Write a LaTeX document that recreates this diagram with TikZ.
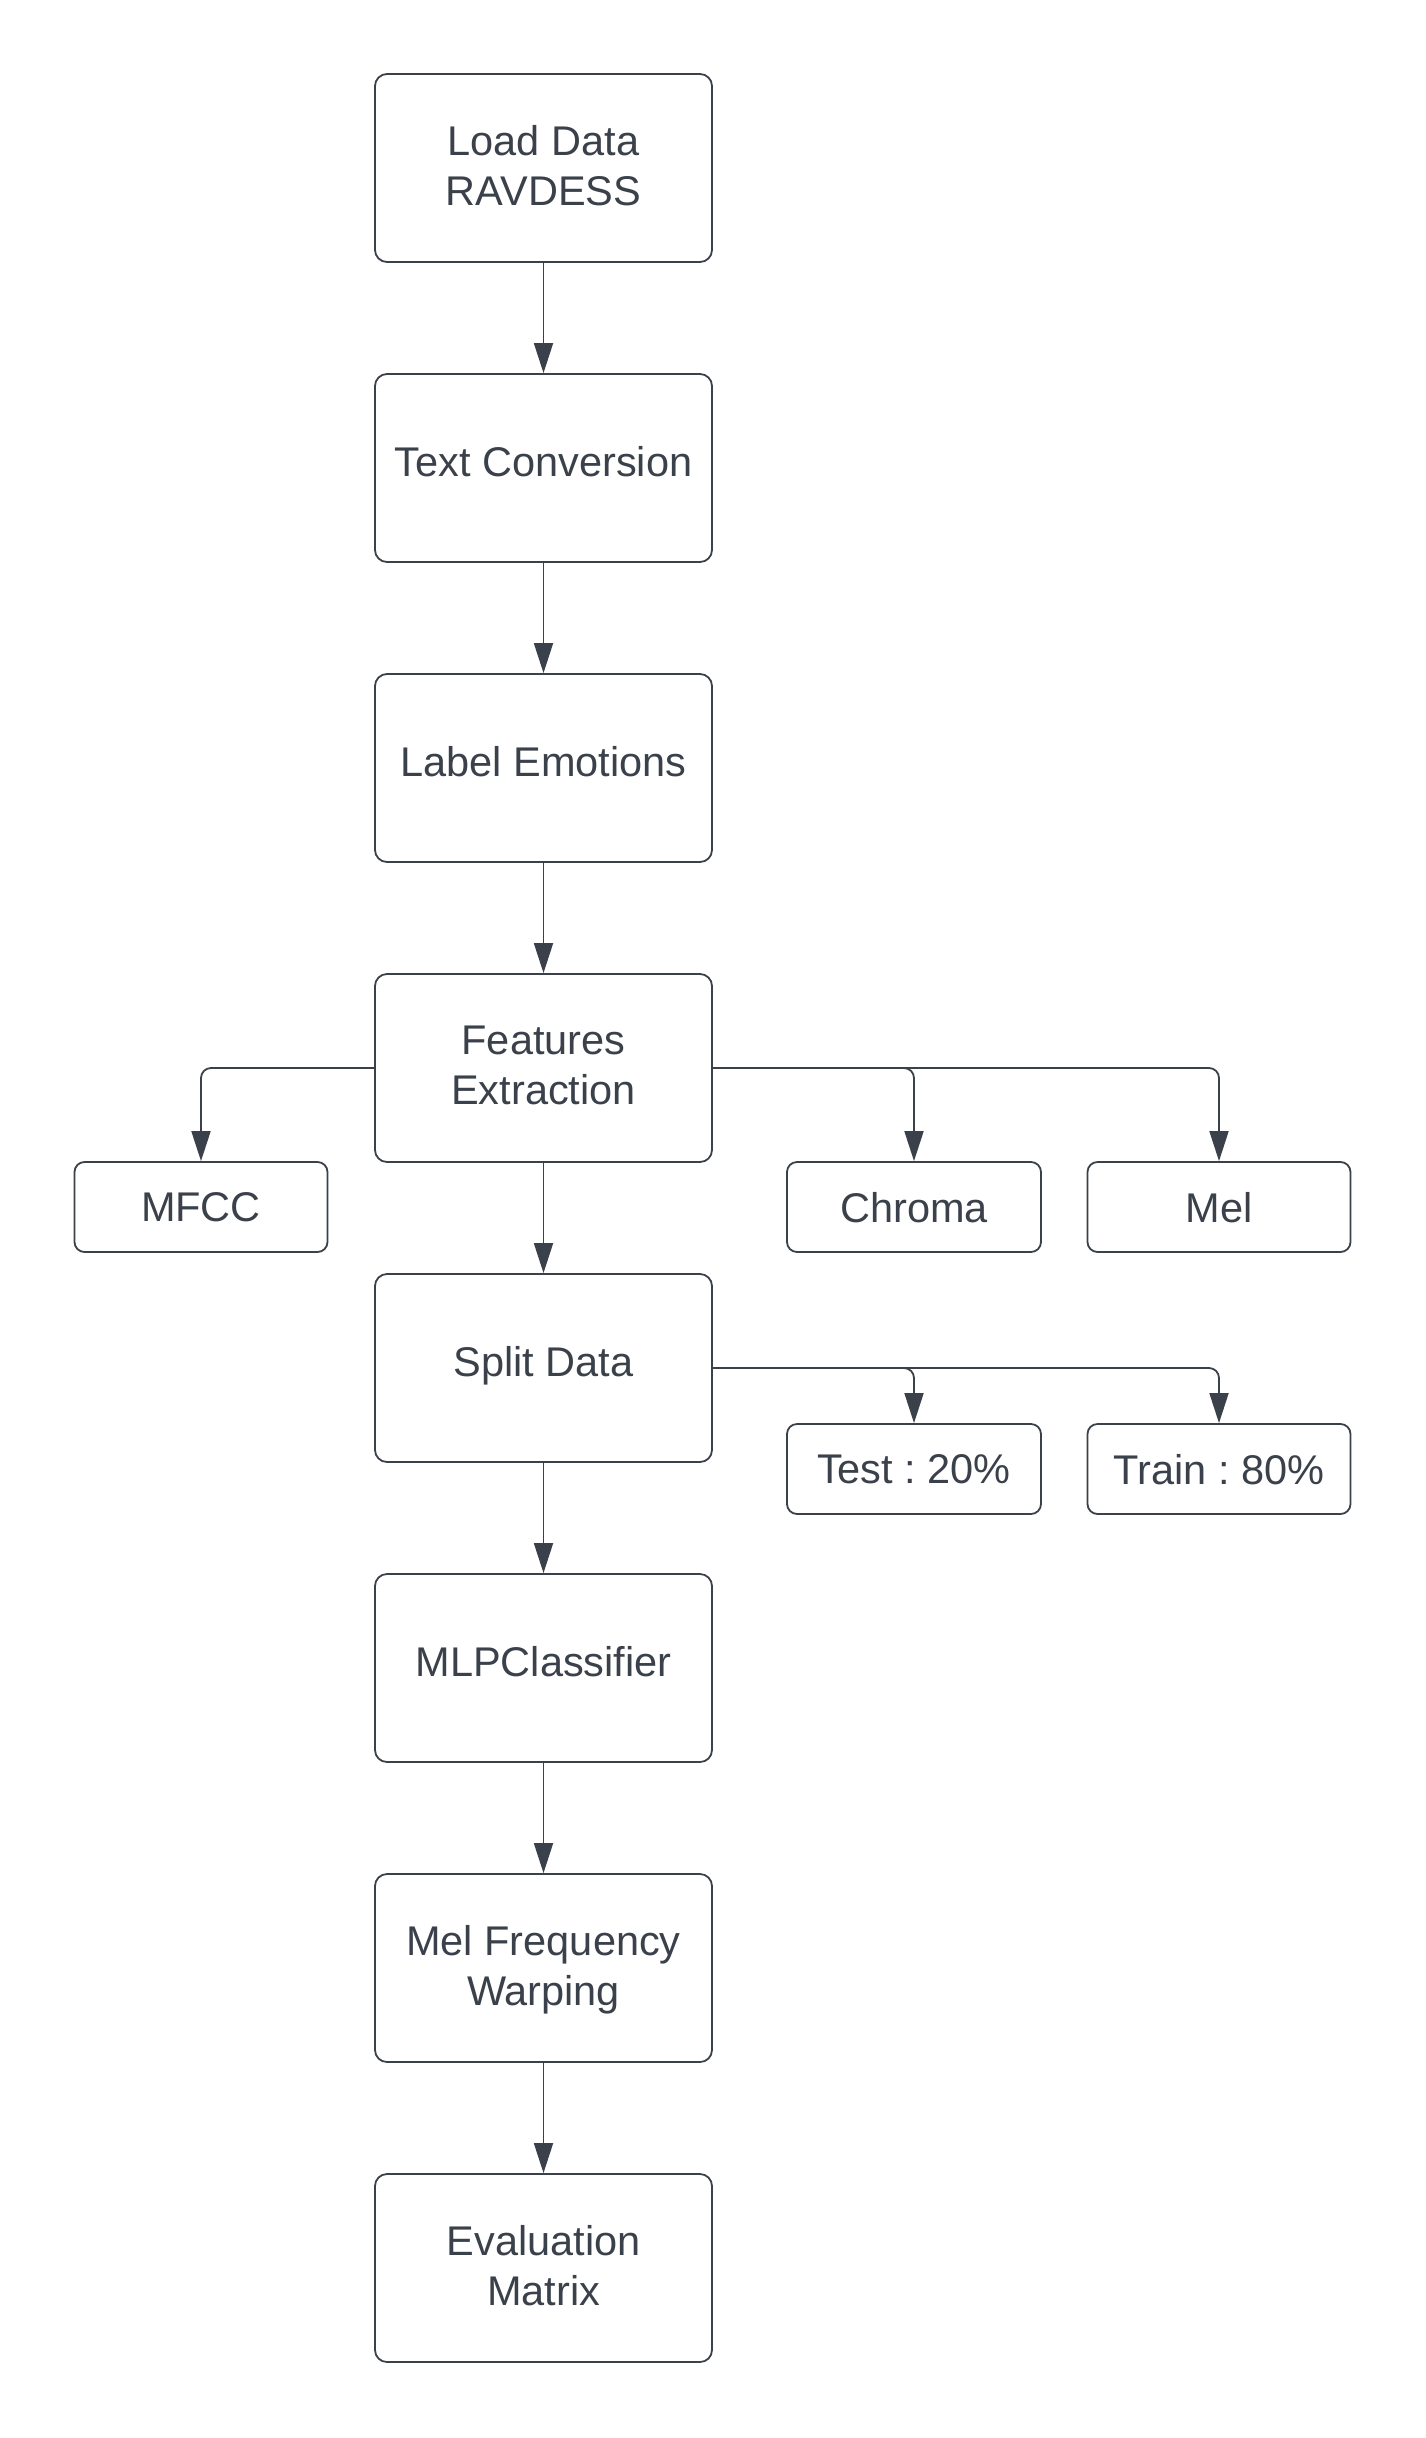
\documentclass[tikz,border=0pt]{standalone}
\usepackage{fontspec}
\setmainfont{Liberation Sans}
\usetikzlibrary{arrows.meta}
\definecolor{ink}{HTML}{3A414A}
\frenchspacing
\begin{document}
\begin{tikzpicture}[x=1pt,y=-1pt,
  box/.style={draw=ink, line width=1.8pt, rounded corners=12pt, text=ink,
    font=\fontsize{41.5}{50}\selectfont\frenchspacing, align=center, inner sep=0pt,
    text depth=12.5pt,
    minimum width=337pt, minimum height=188pt},
  twoline/.style={box, text depth=6pt},
  small/.style={box, minimum height=90pt, rounded corners=10pt, text depth=0pt},
  conn/.style={draw=ink, line width=1.8pt, rounded corners=10pt,
    -{Triangle[length=30pt,width=19pt]}}]
\path[use as bounding box] (0,0) rectangle (1425,2438);
\node[twoline] (load) at (543.5,168) {Load Data\\RAVDESS};
\node[box] (text) at (543.5,468) {Text Conversion};
\node[box] (label) at (543.5,768) {Label Emotions};
\node[twoline] (feat) at (543.5,1068) {Features\\Extraction};
\node[box] (split) at (543.5,1368) {Split Data};
\node[box] (mlp) at (543.5,1668) {MLPClassifier};
\node[twoline] (mfw) at (543.5,1968) {Mel Frequency\\Warping};
\node[twoline] (eval) at (543.5,2268) {Evaluation\\Matrix};
\node[small, minimum width=253pt] (mfcc) at (201,1207) {MFCC};
\node[small, minimum width=254pt] (chroma) at (914,1207) {Chroma};
\node[small, minimum width=263pt] (mel) at (1219,1207) {Mel};
\node[small, minimum width=254pt] (test) at (914,1469) {Test : 20\%};
\node[small, minimum width=263pt] (train) at (1219,1469) {Train : 80\%};
\draw[conn] (load) -- (text);
\draw[conn] (text) -- (label);
\draw[conn] (label) -- (feat);
\draw[conn] (feat) -- (split);
\draw[conn] (split) -- (mlp);
\draw[conn] (mlp) -- (mfw);
\draw[conn] (mfw) -- (eval);
\draw[conn] (feat.west) -| (mfcc.north);
\draw[conn] (feat.east) -| (chroma.north);
\draw[conn] (feat.east) -| (mel.north);
\draw[conn] (split.east) -| (test.north);
\draw[conn] (split.east) -| (train.north);
\end{tikzpicture}
\end{document}
